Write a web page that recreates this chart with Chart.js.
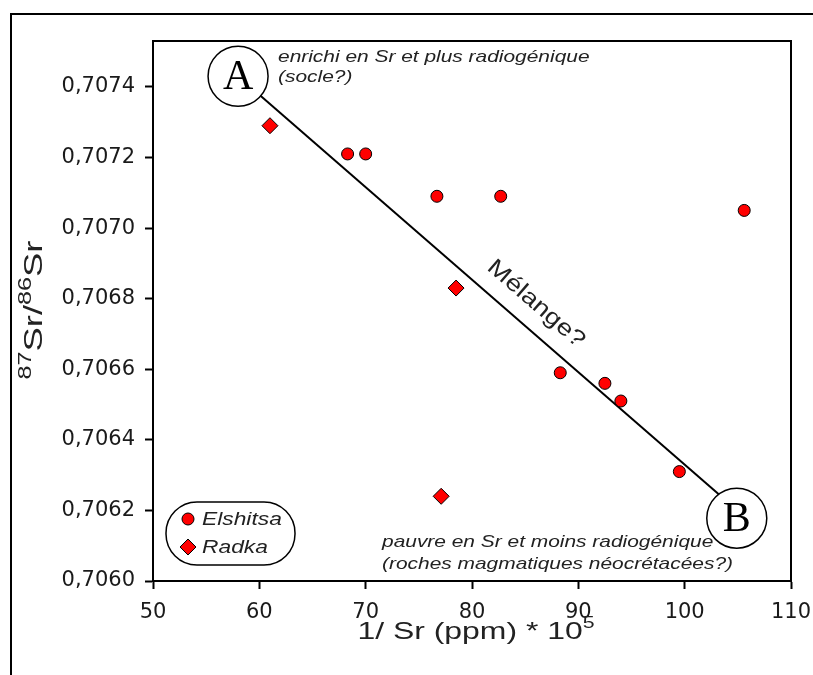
<!DOCTYPE html>
<html>
<head>
<meta charset="utf-8">
<script src="https://cdn.jsdelivr.net/npm/chart.js@4.4.0/dist/chart.umd.min.js"></script>
<style>
  html, body { margin: 0; padding: 0; background: #fff; }
  canvas { display: block; }
</style>
</head>
<body>
<canvas id="chart" width="813" height="675"></canvas>
<script>
// Elshitsa samples (circles)
const elshitsaX = [68.3, 70.0, 76.7, 82.7, 105.6, 88.3, 92.5, 94.0, 99.5];
const elshitsaY = [0.70721, 0.70721, 0.70709, 0.70709, 0.70705, 0.70659, 0.70656, 0.70651, 0.70631];
// Radka samples (diamonds)
const radkaX = [61.0, 78.5, 77.1];
const radkaY = [0.70729, 0.70683, 0.70624];
// mixing line, end members A and B
const mixX = [58.0, 103.8];
const mixY = [0.70743, 0.70623];
const endA = [58.0, 0.70743];
const endB = [104.9, 0.706178];

const xTicks = [50, 60, 70, 80, 90, 100, 110];
const yTicks = [0.7060, 0.7062, 0.7064, 0.7066, 0.7068, 0.7070, 0.7072, 0.7074];

const sans = '"Liberation Sans", Arial, sans-serif';
const serif = '"Liberation Serif", "Times New Roman", serif';

function txt(ctx, s, x, y, font, align, sx) {
    ctx.save();
    ctx.font = font;
    ctx.textAlign = align || 'left';
    ctx.textBaseline = 'middle';
    ctx.translate(x, y);
    ctx.scale(sx || 1, 1);
    ctx.fillText(s, 0, 0);
    ctx.restore();
}

// draws pieces [text, isSup] centred on (0,0) of current transform
function supText(ctx, pieces, size, supSize, sx) {
    const widths = pieces.map(p => {
        ctx.font = (p[1] ? supSize : size) + 'px ' + sans;
        return ctx.measureText(p[0]).width * sx;
    });
    const total = widths.reduce((a, b) => a + b, 0);
    let x = -total / 2;
    pieces.forEach((p, i) => {
        const y = p[1] ? -size * 0.36 : 0;
        txt(ctx, p[0], x, y, (p[1] ? supSize : size) + 'px ' + sans, 'left', sx);
        x += widths[i];
    });
}

const decor = {
    id: 'decor',
    beforeDraw(chart) {
        const ctx = chart.ctx;
        ctx.save();
        ctx.strokeStyle = '#000';
        ctx.lineWidth = 2;
        ctx.beginPath();
        ctx.moveTo(11, 675);
        ctx.lineTo(11, 14);
        ctx.lineTo(813, 14);
        ctx.stroke();
        ctx.restore();
    },
    afterDatasetsDraw(chart) {
        const ctx = chart.ctx;
        const a = chart.chartArea;
        const xs = chart.scales.x, ys = chart.scales.y;
        ctx.save();
        // top and right of the plot box
        ctx.strokeStyle = '#000';
        ctx.lineWidth = 2;
        ctx.beginPath();
        ctx.moveTo(a.left, a.top);
        ctx.lineTo(a.right, a.top);
        ctx.lineTo(a.right, a.bottom);
        ctx.stroke();

        // end member circles
        [[endA, 'A'], [endB, 'B']].forEach(([p, l]) => {
            const cx = xs.getPixelForValue(p[0]);
            const cy = ys.getPixelForValue(p[1]);
            ctx.beginPath();
            ctx.arc(cx, cy, 30, 0, Math.PI * 2);
            ctx.fillStyle = '#fff';
            ctx.fill();
            ctx.lineWidth = 1.5;
            ctx.strokeStyle = '#000';
            ctx.stroke();
            ctx.fillStyle = '#000';
            txt(ctx, l, cx, cy + 2, '42px ' + serif, 'center', 1);
        });

        ctx.fillStyle = '#222';
        // Mélange? along the line
        ctx.save();
        ctx.translate(536, 304);
        ctx.rotate(Math.atan(0.866));
        txt(ctx, 'Mélange?', 0, 0, '23px ' + sans, 'center', 1.2);
        ctx.restore();

        const it = 'italic 17px ' + sans;
        txt(ctx, 'enrichi en Sr et plus radiogénique', 278, 57, it, 'left', 1.23);
        txt(ctx, '(socle?)', 278, 77, it, 'left', 1.23);
        txt(ctx, 'pauvre en Sr et moins radiogénique', 382, 542, it, 'left', 1.23);
        txt(ctx, '(roches magmatiques néocrétacées?)', 382, 564, it, 'left', 1.23);

        // legend pill
        ctx.beginPath();
        ctx.roundRect(166, 502, 129, 63, 31);
        ctx.fillStyle = '#fff';
        ctx.fill();
        ctx.lineWidth = 1.5;
        ctx.strokeStyle = '#000';
        ctx.stroke();
        ctx.beginPath();
        ctx.arc(188, 519, 6, 0, Math.PI * 2);
        ctx.fillStyle = '#ff0000';
        ctx.fill();
        ctx.lineWidth = 1;
        ctx.stroke();
        ctx.beginPath();
        ctx.moveTo(188, 539); ctx.lineTo(196, 547); ctx.lineTo(188, 555); ctx.lineTo(180, 547);
        ctx.closePath();
        ctx.fill();
        ctx.stroke();
        ctx.fillStyle = '#222';
        txt(ctx, 'Elshitsa', 202, 520, 'italic 19px ' + sans, 'left', 1.2);
        txt(ctx, 'Radka', 202, 548, 'italic 19px ' + sans, 'left', 1.2);

        // axis titles
        ctx.save();
        ctx.translate(476, 632);
        supText(ctx, [['1/ Sr (ppm) * 10', false], ['5', true]], 24, 16, 1.33);
        ctx.restore();
        ctx.save();
        ctx.translate(35, 310);
        ctx.rotate(-Math.PI / 2);
        supText(ctx, [['87', true], ['Sr/', false], ['86', true], ['Sr', false]], 26, 18, 1.4);
        ctx.restore();
        ctx.restore();
    }
};

const pts = (xs, ys) => xs.map((x, i) => ({ x: x, y: ys[i] }));

new Chart(document.getElementById('chart'), {
    type: 'scatter',
    data: {
        datasets: [
            {
                label: 'Mélange',
                type: 'line',
                data: pts(mixX, mixY),
                borderColor: '#000',
                borderWidth: 2,
                pointRadius: 0,
                fill: false,
                order: 3
            },
            {
                label: 'Elshitsa',
                data: pts(elshitsaX, elshitsaY),
                pointStyle: 'circle',
                pointRadius: 6,
                backgroundColor: '#ff0000',
                borderColor: '#000',
                borderWidth: 1,
                order: 1
            },
            {
                label: 'Radka',
                data: pts(radkaX, radkaY),
                pointStyle: 'rectRot',
                pointRadius: 8,
                backgroundColor: '#ff0000',
                borderColor: '#000',
                borderWidth: 1,
                order: 2
            }
        ]
    },
    options: {
        responsive: false,
        animation: false,
        layout: { padding: { top: 41, right: 22, left: 0, bottom: 0 } },
        plugins: { legend: { display: false }, tooltip: { enabled: false } },
        scales: {
            x: {
                type: 'linear',
                min: 50,
                max: 110,
                afterBuildTicks: s => { s.ticks = xTicks.map(v => ({ value: v })); },
                afterFit: s => { s.height = 94; s.paddingLeft = 0; s.paddingRight = 0; },
                grid: { drawOnChartArea: false, tickLength: 8, tickColor: '#000', tickWidth: 2 },
                border: { color: '#000', width: 2 },
                ticks: { color: '#1a1a1a', font: { family: '"DejaVu Sans"', size: 21 }, padding: 11, autoSkip: false, maxRotation: 0 }
            },
            y: {
                type: 'linear',
                min: 0.7060,
                max: 0.70753,
                afterBuildTicks: s => { s.ticks = yTicks.map(v => ({ value: v })); },
                afterFit: s => { s.width = 153; s.paddingTop = 0; s.paddingBottom = 0; },
                grid: { drawOnChartArea: false, tickLength: 8, tickColor: '#000', tickWidth: 2 },
                border: { color: '#000', width: 2 },
                ticks: {
                    color: '#1a1a1a',
                    font: { family: '"DejaVu Sans"', size: 21 },
                    padding: 10,
                    autoSkip: false,
                    callback: v => v.toFixed(4).replace('.', ',')
                }
            }
        }
    },
    plugins: [decor]
});
</script>
</body>
</html>
